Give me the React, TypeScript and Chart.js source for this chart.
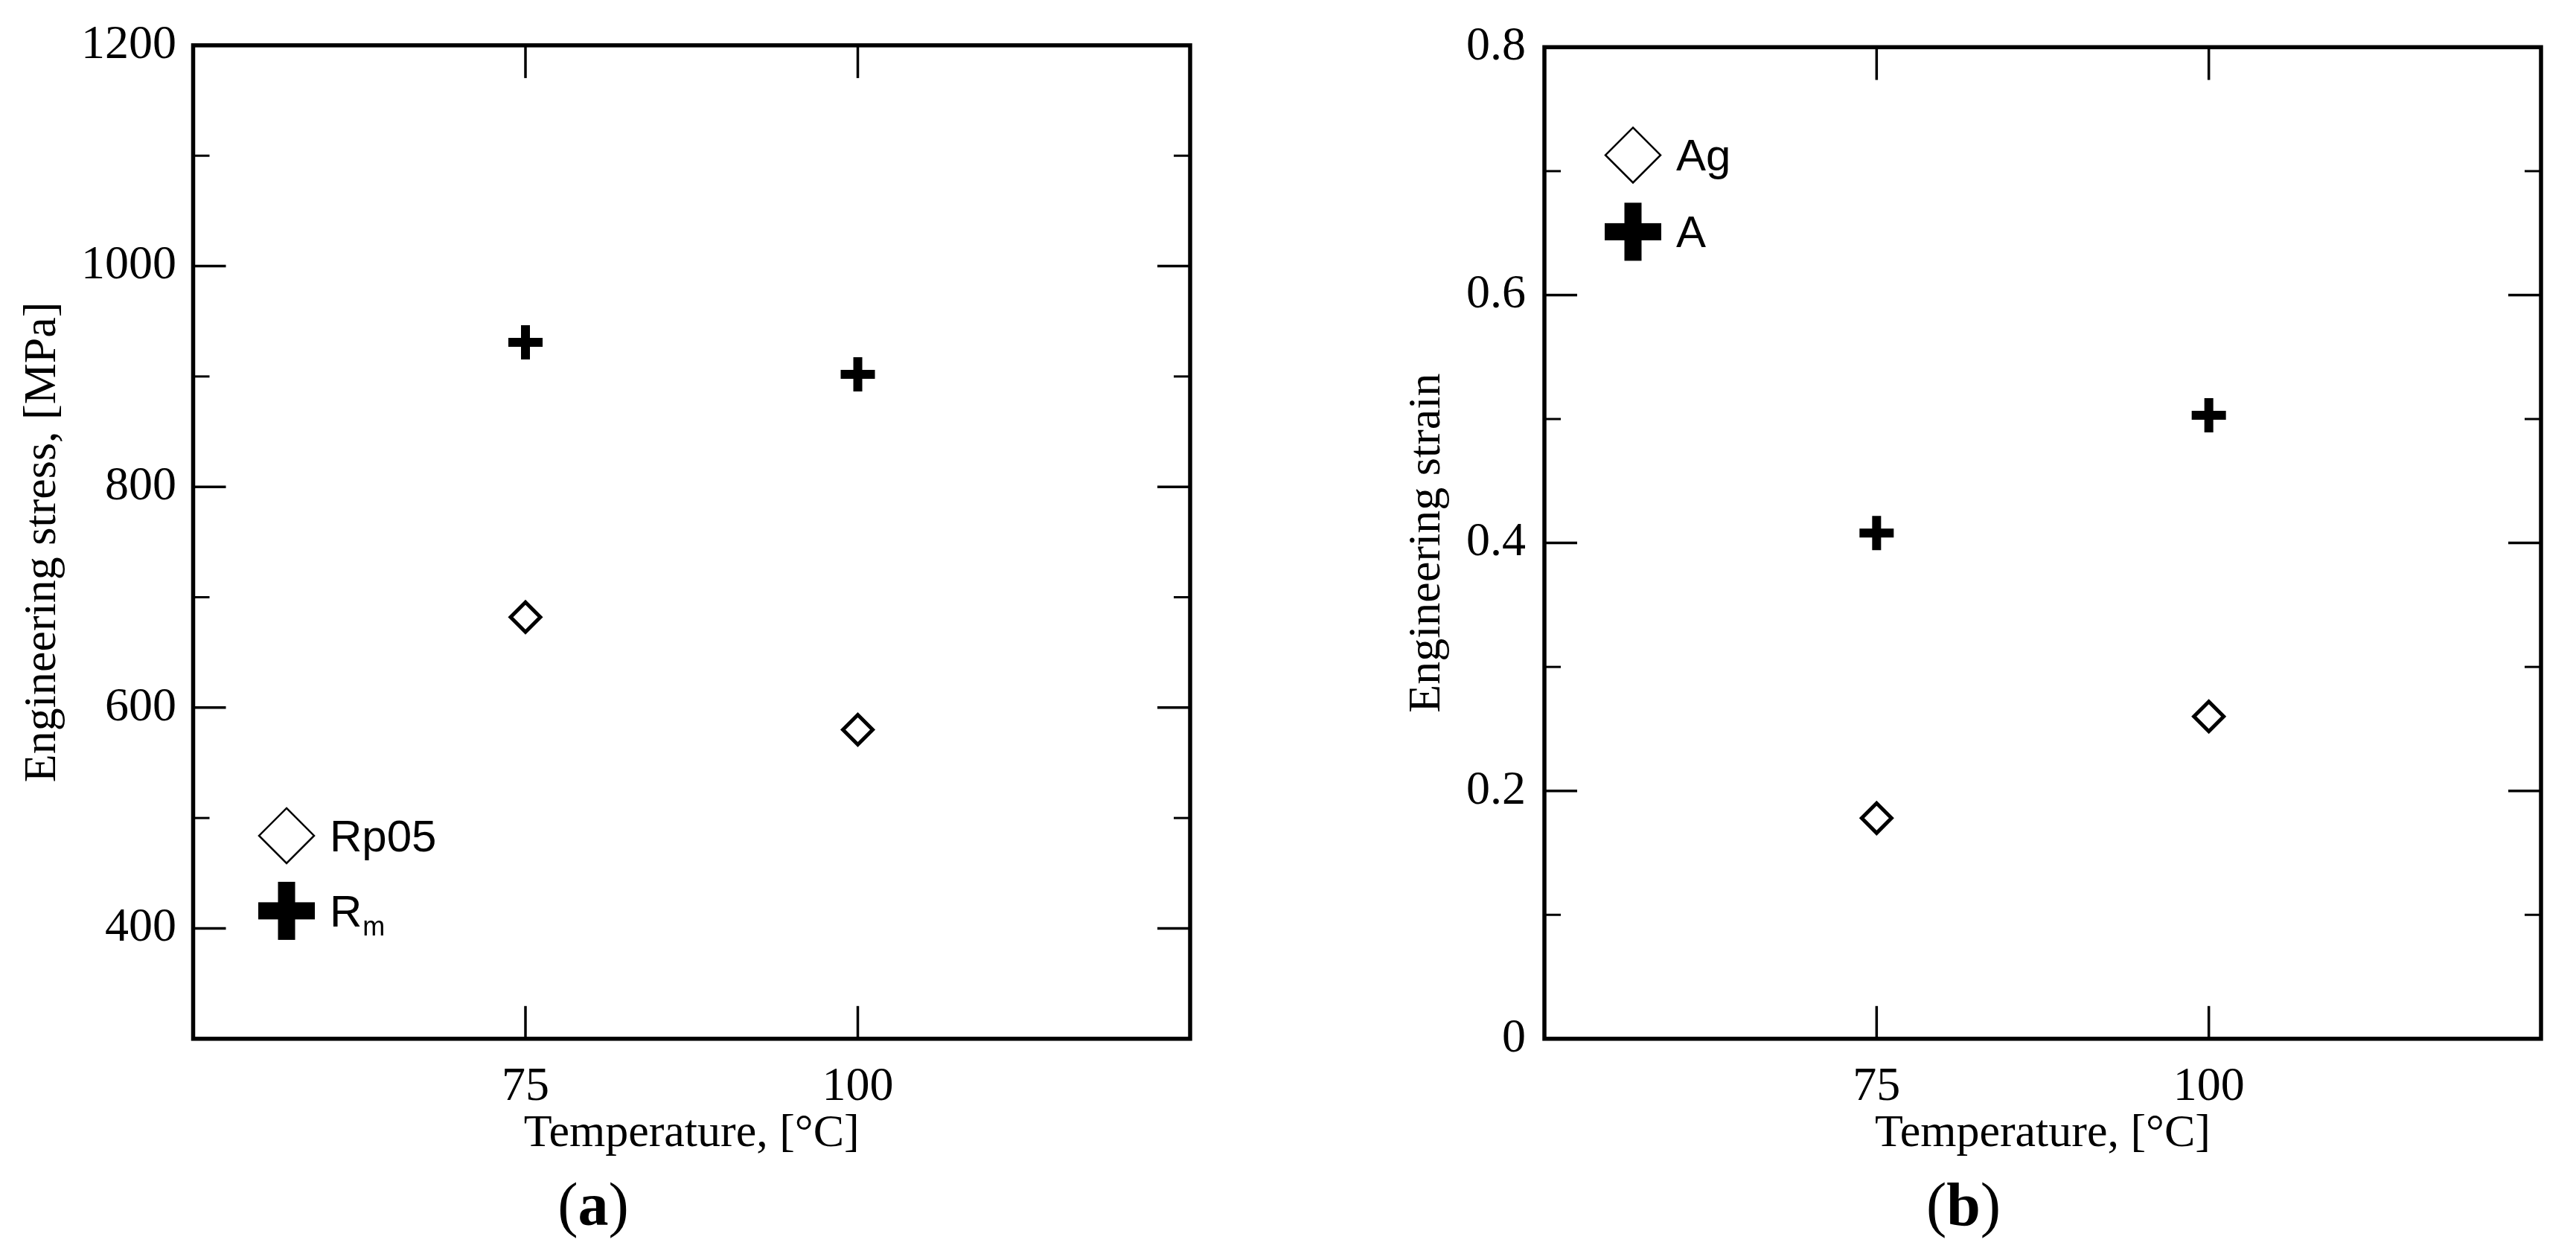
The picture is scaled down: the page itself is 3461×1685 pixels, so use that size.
import React, { useEffect, useRef } from 'react';
import { Chart, registerables } from 'chart.js';

Chart.register(...registerables);

// ---------------- data ----------------
const temperatures = [75, 100];
const rp05Values = [682, 580];
const rmValues = [931, 902];
const agValues = [0.178, 0.26];
const aValues = [0.408, 0.503];

const xRange = [50, 125];
const xTickValues = [75, 100];
const xTickLabels = ['75', '100'];

const stressRange = [300, 1200];
const stressMajorTicks = [400, 600, 800, 1000, 1200];
const stressMajorLabels = ['400', '600', '800', '1000', '1200'];
const stressMinorTicks = [500, 700, 900, 1100];

const strainRange = [0, 0.8];
const strainMajorTicks = [0, 0.2, 0.4, 0.6, 0.8];
const strainMajorLabels = ['0', '0.2', '0.4', '0.6', '0.8'];
const strainMinorTicks = [0.1, 0.3, 0.5, 0.7];

const SERIF = '"Liberation Serif", "Times New Roman", serif';
const SANS = '"Liberation Sans", Arial, sans-serif';

// ---------------- plugins ----------------
const frameTicksPlugin = {
  id: 'frameTicks',
  afterDraw(chart: any, _args: any, opts: any) {
    const { ctx, chartArea: a, scales } = chart;
    const x = scales.x;
    const y = scales.y;
    const line = (x1: number, y1: number, x2: number, y2: number) => {
      ctx.beginPath();
      ctx.moveTo(x1, y1);
      ctx.lineTo(x2, y2);
      ctx.stroke();
    };
    ctx.save();
    ctx.strokeStyle = '#000';
    ctx.lineCap = 'butt';
    ctx.lineWidth = 3.5;
    for (const v of opts.xMajor) {
      const px = x.getPixelForValue(v);
      line(px, a.top, px, a.top + 44);
      line(px, a.bottom, px, a.bottom - 44);
    }
    for (const v of opts.yMajor) {
      if (v <= y.min || v >= y.max) continue;
      const py = y.getPixelForValue(v);
      line(a.left, py, a.left + 44, py);
      line(a.right, py, a.right - 44, py);
    }
    ctx.lineWidth = 3;
    for (const v of opts.yMinor) {
      const py = y.getPixelForValue(v);
      line(a.left, py, a.left + 22, py);
      line(a.right, py, a.right - 22, py);
    }
    ctx.lineWidth = 5.5;
    ctx.strokeRect(a.left, a.top, a.right - a.left, a.bottom - a.top);
    ctx.restore();
  },
};

const insideLegendPlugin = {
  id: 'insideLegend',
  afterDraw(chart: any, _args: any, opts: any) {
    const { ctx, chartArea: a } = chart;
    ctx.save();
    ctx.fillStyle = '#000';
    ctx.strokeStyle = '#000';
    opts.items.forEach((it: any) => {
      const cx = a.left + it.dx;
      const cy = a.top + it.dy;
      if (it.style === 'diamond') {
        const r = 37;
        ctx.lineWidth = 2.5;
        ctx.beginPath();
        ctx.moveTo(cx, cy - r);
        ctx.lineTo(cx + r, cy);
        ctx.lineTo(cx, cy + r);
        ctx.lineTo(cx - r, cy);
        ctx.closePath();
        ctx.stroke();
      } else {
        const r = 38;
        const t = 23;
        ctx.fillRect(cx - r, cy - t / 2, 2 * r, t);
        ctx.fillRect(cx - t / 2, cy - r - 1, t, 2 * r + 2);
      }
      ctx.textAlign = 'left';
      ctx.textBaseline = 'alphabetic';
      ctx.font = `60px ${SANS}`;
      const tx = cx + 58;
      const ty = cy + 21;
      ctx.fillText(it.text, tx, ty);
      if (it.sub) {
        const w = ctx.measureText(it.text).width;
        ctx.font = `36px ${SANS}`;
        ctx.fillText(it.sub, tx + w + 1, ty + 12);
      }
    });
    ctx.restore();
  },
};

// ---------------- config builder ----------------
function buildConfig(p: any) {
  return {
    type: 'scatter',
    data: {
      datasets: [
        {
          label: p.s1Label,
          data: temperatures.map((t, i) => ({ x: t, y: p.s1[i] })),
          showLine: false,
          pointStyle: 'rectRot',
          pointRadius: 20,
          pointHoverRadius: 20,
          pointBorderWidth: 5,
          pointBorderColor: '#000',
          pointBackgroundColor: '#fff',
        },
        {
          label: p.s2Label,
          data: temperatures.map((t, i) => ({ x: t, y: p.s2[i] })),
          showLine: false,
          pointStyle: 'cross',
          pointRadius: 23,
          pointHoverRadius: 23,
          pointBorderWidth: 12,
          pointBorderColor: '#000',
          pointBackgroundColor: '#000',
        },
      ],
    },
    options: {
      responsive: false,
      animation: false,
      events: [],
      layout: { padding: { left: 0, top: 57, right: p.padRight, bottom: 124 } },
      plugins: {
        legend: { display: false },
        tooltip: { enabled: false },
        title: { display: false },
        frameTicks: { xMajor: xTickValues, yMajor: p.yMajor, yMinor: p.yMinor },
        insideLegend: { items: p.legendItems },
      },
      scales: {
        x: {
          type: 'linear',
          position: 'bottom',
          min: xRange[0],
          max: xRange[1],
          grid: { display: false, drawTicks: false },
          border: { display: false },
          afterBuildTicks: (s: any) => {
            s.ticks = xTickValues.map((v) => ({ value: v }));
          },
          ticks: {
            autoSkip: false,
            maxRotation: 0,
            padding: 26.6,
            color: '#000',
            font: { family: SERIF, size: 64 },
            callback: (v: number) => {
              const i = xTickValues.indexOf(v);
              return i >= 0 ? xTickLabels[i] : '';
            },
          },
          title: {
            display: true,
            text: 'Temperature, [°C]',
            color: '#000',
            font: { family: SERIF, size: 62 },
            padding: { top: 0, bottom: 0 },
          },
          afterFit: (s: any) => {
            s.height = 165.2;
          },
        },
        y: {
          type: 'linear',
          position: 'left',
          min: p.yRange[0],
          max: p.yRange[1],
          grid: { display: false, drawTicks: false },
          border: { display: false },
          afterBuildTicks: (s: any) => {
            s.ticks = p.yMajor.map((v: number) => ({ value: v }));
          },
          ticks: {
            autoSkip: false,
            padding: p.yTickPad,
            color: '#000',
            font: { family: SERIF, size: 64 },
            callback: (v: number) => {
              const i = p.yMajor.findIndex((m: number) => Math.abs(m - v) < 1e-9);
              return i >= 0 ? p.yLabels[i] : '';
            },
          },
          title: {
            display: true,
            text: p.yTitle,
            color: '#000',
            font: { family: SERIF, size: 62 },
            padding: { top: p.yTitlePad, bottom: 0 },
          },
          afterFit: (s: any) => {
            s.width = p.yAxisWidth;
          },
        },
      },
    },
    plugins: [frameTicksPlugin, insideLegendPlugin],
  };
}

function ChartPanel(props: { config: any; left: number; width: number }) {
  const ref = useRef<HTMLCanvasElement | null>(null);
  useEffect(() => {
    if (!ref.current) return;
    const chart = new Chart(ref.current, props.config);
    return () => chart.destroy();
  }, []);
  return (
    <canvas
      ref={ref}
      width={props.width}
      height={1685}
      style={{ position: 'absolute', left: props.left, top: 0, width: props.width, height: 1685, display: 'block' }}
    />
  );
}

const leftConfig = buildConfig({
  s1Label: 'Rp05',
  s2Label: 'Rm',
  s1: rp05Values,
  s2: rmValues,
  yRange: stressRange,
  yMajor: stressMajorTicks,
  yLabels: stressMajorLabels,
  yMinor: stressMinorTicks,
  yTitle: 'Engineering stress, [MPa]',
  yTitlePad: 20.8,
  yTickPad: 22.5,
  yAxisWidth: 259.5,
  padRight: 131,
  legendItems: [
    { style: 'diamond', text: 'Rp05', dx: 125.5, dy: 1062 },
    { style: 'cross', text: 'R', sub: 'm', dx: 125.5, dy: 1163 },
  ],
});

const rightConfig = buildConfig({
  s1Label: 'Ag',
  s2Label: 'A',
  s1: agValues,
  s2: aValues,
  yRange: strainRange,
  yMajor: strainMajorTicks,
  yLabels: strainMajorLabels,
  yMinor: strainMinorTicks,
  yTitle: 'Engineering strain',
  yTitlePad: 150.8,
  yTickPad: 25,
  yAxisWidth: 345,
  padRight: 47,
  legendItems: [
    { style: 'diamond', text: 'Ag', dx: 119, dy: 145 },
    { style: 'cross', text: 'A', dx: 119, dy: 248 },
  ],
});

function PanelLabel(props: { letter: string; center: number }) {
  return (
    <div
      style={{
        position: 'absolute',
        left: props.center - 200,
        top: 1569,
        width: 400,
        textAlign: 'center',
        fontFamily: SERIF,
        fontSize: 82,
        lineHeight: '100px',
        color: '#000',
      }}
    >
      (<b>{props.letter}</b>)
    </div>
  );
}

export default function App() {
  useEffect(() => {
    document.body.style.overflow = 'hidden';
    Chart.defaults.color = '#000';
  }, []);
  return (
    <div style={{ position: 'absolute', left: 0, top: 0, width: 3461, height: 1685, background: '#fff', overflow: 'hidden' }}>
      <ChartPanel config={leftConfig} left={0} width={1730} />
      <ChartPanel config={rightConfig} left={1730} width={1731} />
      <PanelLabel letter="a" center={797} />
      <PanelLabel letter="b" center={2638} />
    </div>
  );
}
